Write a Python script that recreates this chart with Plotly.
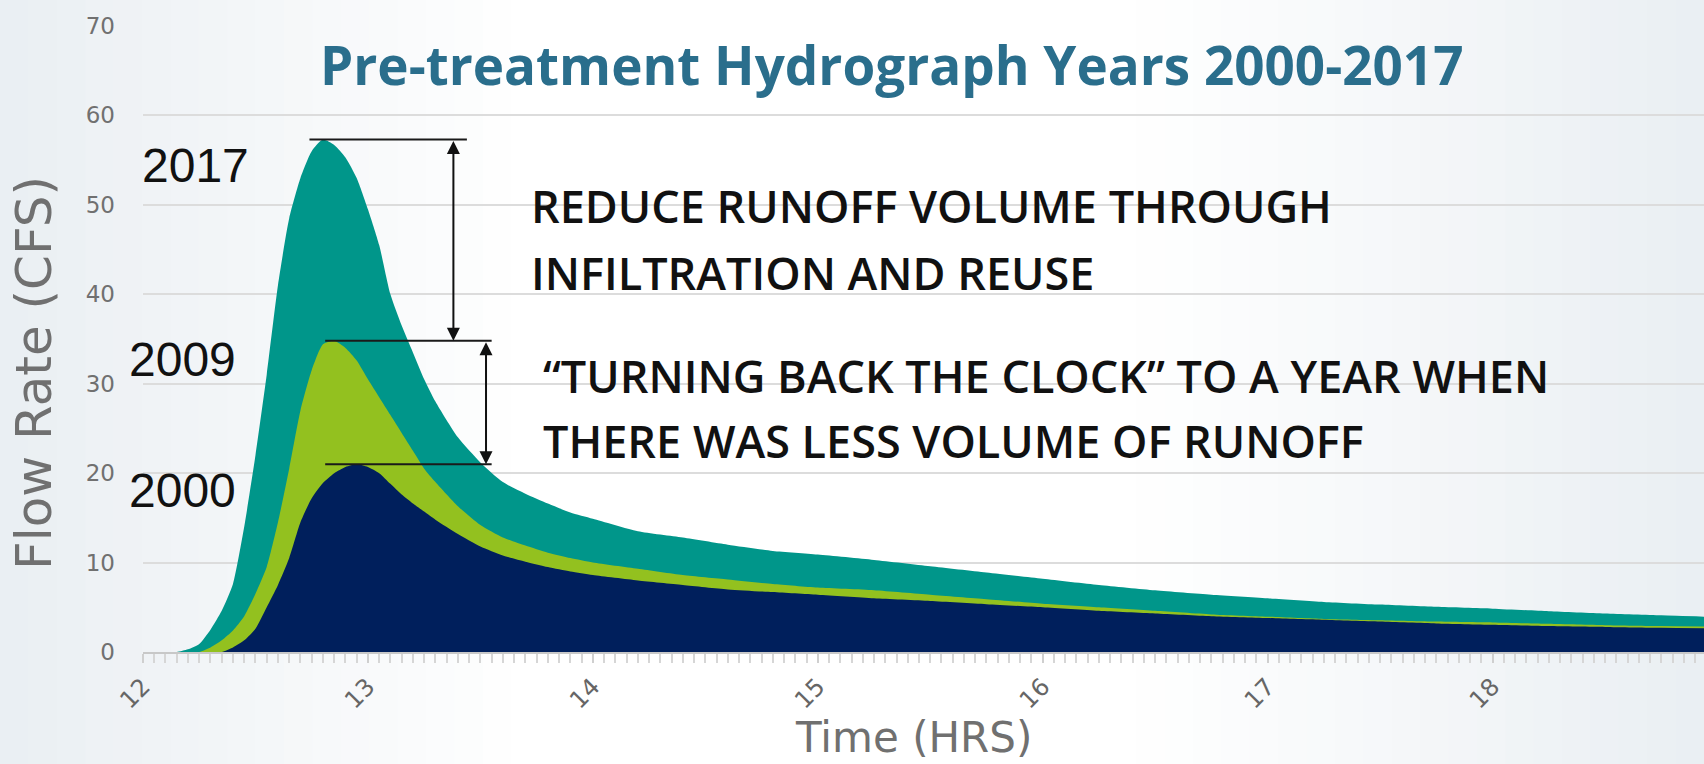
import plotly.graph_objects as go

# ---------------- data ----------------
time_hrs = [12.0, 12.1, 12.15, 12.2, 12.25, 12.3, 12.35, 12.4, 12.45, 12.5, 12.55, 12.6, 12.65,
            12.7, 12.75, 12.8, 12.85, 12.9, 12.95, 13.0, 13.05, 13.1, 13.15, 13.2, 13.25, 13.3,
            13.4, 13.5, 13.6, 13.7, 13.8, 13.9, 14.0, 14.2, 14.4, 14.6, 14.8, 15.0, 15.25, 15.5,
            15.75, 16.0, 16.25, 16.5, 16.75, 17.0, 17.25, 17.5, 17.75, 18.0, 18.25, 18.5, 18.75, 18.94]

flow_2017 = [0, 0, 0, 0.3, 0.9, 2.5, 4.6, 7.6, 14.0, 22.0, 31.0, 41.0, 48.5,
             53.0, 56.0, 57.3, 56.7, 55.3, 53.0, 49.5, 45.5, 40.0, 36.5, 33.5, 30.5, 28.0,
             24.0, 21.2, 19.0, 17.7, 16.6, 15.6, 14.9, 13.5, 12.8, 12.0, 11.3, 10.9, 10.3, 9.6,
             8.9, 8.2, 7.5, 6.9, 6.4, 6.0, 5.6, 5.3, 5.05, 4.85, 4.55, 4.3, 4.1, 3.95]

flow_2009 = [0, 0, 0, 0, 0, 0.5, 1.3, 2.4, 4.0, 6.5, 9.5, 14.5, 20.5,
             27.0, 31.5, 34.4, 34.8, 34.0, 32.6, 30.5, 28.5, 26.5, 24.5, 22.5, 20.5, 19.0,
             16.3, 14.2, 12.8, 11.9, 11.1, 10.5, 10.0, 9.3, 8.6, 8.1, 7.6, 7.2, 6.9, 6.4,
             5.9, 5.4, 5.0, 4.6, 4.2, 3.95, 3.7, 3.55, 3.4, 3.3, 3.15, 3.0, 2.9, 2.85]

flow_2000 = [0, 0, 0, 0, 0, 0, 0, 0.5, 1.3, 2.6, 5.0, 7.5, 10.5,
             14.5, 17.2, 18.9, 20.0, 20.7, 21.0, 20.7, 20.0, 18.8, 17.6, 16.6, 15.7, 14.8,
             13.2, 11.8, 10.8, 10.1, 9.5, 9.0, 8.6, 8.0, 7.5, 7.0, 6.7, 6.4, 6.0, 5.7,
             5.35, 5.0, 4.6, 4.3, 4.0, 3.8, 3.6, 3.4, 3.2, 3.05, 2.9, 2.8, 2.7, 2.65]

years = ["2017", "2009", "2000"]

title_text = "Pre-treatment Hydrograph Years 2000-2017"
note_1 = ["REDUCE RUNOFF VOLUME THROUGH", "INFILTRATION AND REUSE"]
note_2 = ["\u201cTURNING BACK THE CLOCK\u201d TO A YEAR WHEN", "THERE WAS LESS VOLUME OF RUNOFF"]

# ---------------- figure ----------------
W, H = 1704, 764
ML, MR, MT, MB = 143, 0, 26, 112
PW = W - ML - MR
PH = H - MT - MB


def px_x(px):
    return (px - ML) / PW


def px_y(py):
    return (H - MB - py) / PH


colors = {"2017": "#00968a", "2009": "#93c11f", "2000": "#001f5c"}
series = {"2017": flow_2017, "2009": flow_2009, "2000": flow_2000}

fig = go.Figure()
for yr in years:
    fig.add_trace(go.Scatter(
        x=time_hrs, y=series[yr], mode="lines", fill="tozeroy",
        line=dict(width=0, color=colors[yr], shape="spline", smoothing=0.6),
        fillcolor=colors[yr], name=yr, showlegend=False, hoverinfo="skip"))

shapes = []
# background gradient (left and right edges greyish-blue, centre white)
n = 60
for i in range(n):
    x0 = i * W / n
    x1 = (i + 1) * W / n
    xc = (x0 + x1) / 2
    if xc < 520:
        f = 1 - xc / 520
    elif xc > 1150:
        f = (xc - 1150) / (W - 1150)
    else:
        f = 0
    r = int(255 - f * 21)
    g = int(255 - f * 16)
    b = int(255 - f * 12)
    shapes.append(dict(type="rect", xref="paper", yref="paper", layer="below",
                       x0=px_x(x0), x1=px_x(x1 + 1), y0=px_y(H), y1=px_y(0),
                       line=dict(width=0), fillcolor=f"rgb({r},{g},{b})"))

peak = {yr: max(series[yr]) for yr in years}
line_style = dict(color="#1a1a1a", width=2)
shapes.append(dict(type="line", xref="x", yref="y", x0=12.74, x1=13.44,
                   y0=peak["2017"], y1=peak["2017"], line=line_style))
shapes.append(dict(type="line", xref="x", yref="y", x0=12.81, x1=13.55,
                   y0=peak["2009"], y1=peak["2009"], line=line_style))
shapes.append(dict(type="line", xref="x", yref="y", x0=12.81, x1=13.55,
                   y0=peak["2000"], y1=peak["2000"], line=line_style))

annotations = []
# double-headed arrows
annotations.append(dict(x=13.38, y=peak["2009"], ax=13.38, ay=peak["2017"],
                        xref="x", yref="y", axref="x", ayref="y", text="",
                        showarrow=True, arrowhead=2, arrowsize=1.3, arrowwidth=2,
                        arrowside="end+start", arrowcolor="#111"))
annotations.append(dict(x=13.525, y=peak["2000"], ax=13.525, ay=peak["2009"],
                        xref="x", yref="y", axref="x", ayref="y", text="",
                        showarrow=True, arrowhead=2, arrowsize=1.3, arrowwidth=2,
                        arrowside="end+start", arrowcolor="#111"))

year_font = dict(family="Liberation Sans, Arial, sans-serif", size=48, color="#111")
annotations.append(dict(text="2017", x=px_x(195), y=px_y(165), xref="paper", yref="paper",
                        showarrow=False, font=year_font, xanchor="center", yanchor="middle"))
annotations.append(dict(text="2009", x=px_x(182), y=px_y(359), xref="paper", yref="paper",
                        showarrow=False, font=year_font, xanchor="center", yanchor="middle"))
annotations.append(dict(text="2000", x=px_x(182), y=px_y(490), xref="paper", yref="paper",
                        showarrow=False, font=year_font, xanchor="center", yanchor="middle"))

note_font = dict(family="Open Sans, sans-serif", size=45, color="#111", weight=600)
for txt, py in zip(note_1, [206, 272]):
    annotations.append(dict(text=txt, x=px_x(529), y=px_y(py), xref="paper", yref="paper",
                            showarrow=False, font=note_font, xanchor="left", yanchor="middle"))
for txt, py in zip(note_2, [375, 440]):
    annotations.append(dict(text=txt, x=px_x(541), y=px_y(py), xref="paper", yref="paper",
                            showarrow=False, font=note_font, xanchor="left", yanchor="middle"))

annotations.append(dict(text=title_text, x=px_x(891), y=px_y(65), xref="paper", yref="paper",
                        showarrow=False, xanchor="center", yanchor="middle",
                        font=dict(family="Open Sans, sans-serif", size=53, color="#2a6e8c",
                                  weight="bold")))

annotations.append(dict(text="Flow Rate (CFS)", x=px_x(34), y=px_y(373), xref="paper",
                        yref="paper", showarrow=False, textangle=-90,
                        font=dict(family="DejaVu Sans, sans-serif", size=50, color="#707070"),
                        xanchor="center", yanchor="middle"))
annotations.append(dict(text="Time (HRS)", x=px_x(913), y=px_y(764), xref="paper",
                        yref="paper", showarrow=False,
                        font=dict(family="DejaVu Sans, sans-serif", size=42, color="#707070"),
                        xanchor="center", yanchor="bottom"))

fig.update_layout(
    width=W, height=H,
    margin=dict(l=ML, r=MR, t=MT, b=MB),
    paper_bgcolor="white",
    plot_bgcolor="rgba(0,0,0,0)",
    shapes=shapes,
    annotations=annotations,
    xaxis=dict(range=[12, 18.94], tickmode="linear", tick0=12, dtick=1,
               tickangle=-45, ticks="outside", ticklen=9, tickcolor="#cfcfcf", tickwidth=2,
               minor=dict(dtick=0.05, tick0=12, ticks="outside", ticklen=9,
                          tickcolor="#d6d6d6", tickwidth=2, showgrid=False),
               showline=True, linecolor="#c8c8c8", linewidth=2, automargin=False,
               showgrid=False, zeroline=False,
               tickfont=dict(family="DejaVu Sans, sans-serif", size=24, color="#666666")),
    yaxis=dict(range=[0, 70], dtick=10, showgrid=True, gridcolor="#dcdcdc", gridwidth=2,
               zeroline=False, showline=False, ticks="", ticklabelstandoff=27,
               automargin=False,
               tickfont=dict(family="DejaVu Sans, sans-serif", size=23, color="#707070")),
)

fig.write_html("out.html", config={"displayModeBar": False},
               post_script="document.body.style.margin='0px';")
